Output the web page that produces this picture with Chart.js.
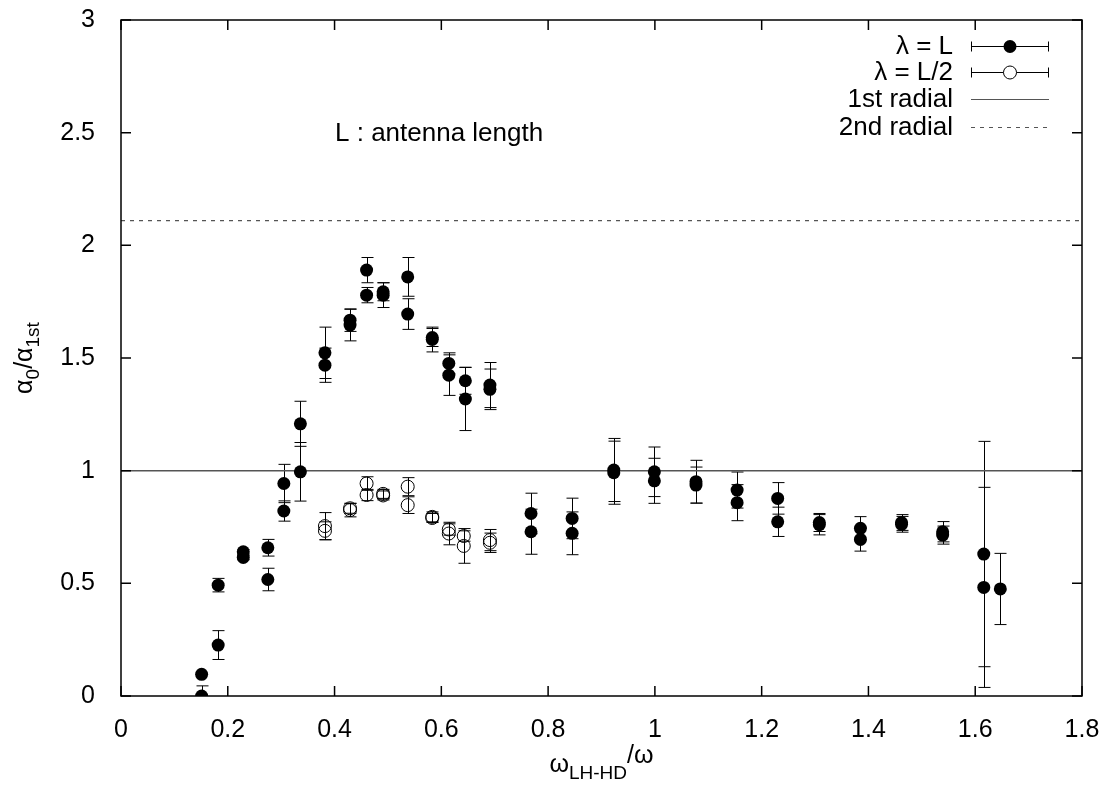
<!DOCTYPE html>
<html>
<head>
<meta charset="utf-8">
<script src="https://cdn.jsdelivr.net/npm/chart.js@4"></script>
<style>
  html, body { margin: 0; padding: 0; background: #fff; }
  canvas { display: block; }
</style>
</head>
<body>
<canvas id="chart" width="1110" height="785"></canvas>
<script>
// lambda = L : x, y and symmetric error
const xFull = [0.151, 0.151, 0.182, 0.182, 0.229, 0.229, 0.275, 0.275, 0.305, 0.305,
  0.336, 0.336, 0.382, 0.382, 0.429, 0.429, 0.460, 0.460, 0.491, 0.491,
  0.537, 0.537, 0.583, 0.583, 0.614, 0.614, 0.645, 0.645, 0.691, 0.691,
  0.768, 0.768, 0.845, 0.845, 0.923, 0.923, 0.999, 0.999, 1.077, 1.077,
  1.154, 1.154, 1.230, 1.230, 1.308, 1.308, 1.385, 1.385, 1.462, 1.462,
  1.539, 1.539, 1.616, 1.616, 1.647];
const yFull = [0.000, 0.096, 0.492, 0.226, 0.640, 0.615, 0.658, 0.517, 0.943, 0.821,
  1.208, 0.995, 1.523, 1.468, 1.668, 1.646, 1.890, 1.779, 1.794, 1.779,
  1.860, 1.695, 1.591, 1.582, 1.476, 1.424, 1.399, 1.318, 1.380, 1.361,
  0.810, 0.729, 0.788, 0.722, 1.003, 0.991, 0.995, 0.955, 0.951, 0.936,
  0.914, 0.858, 0.877, 0.773, 0.770, 0.760, 0.744, 0.695, 0.770, 0.762,
  0.729, 0.714, 0.630, 0.482, 0.475];
const eFull = [0.045, 0.000, 0.030, 0.064, 0.010, 0.010, 0.037, 0.050, 0.085, 0.045,
  0.100, 0.130, 0.114, 0.076, 0.050, 0.070, 0.056, 0.034, 0.040, 0.055,
  0.086, 0.068, 0.040, 0.055, 0.047, 0.090, 0.060, 0.140, 0.100, 0.090,
  0.090, 0.100, 0.090, 0.095, 0.140, 0.140, 0.110, 0.100, 0.095, 0.080,
  0.080, 0.080, 0.070, 0.065, 0.040, 0.045, 0.052, 0.052, 0.035, 0.035,
  0.045, 0.040, 0.500, 0.444, 0.158];

// lambda = L/2
const xHalf = [0.382, 0.382, 0.429, 0.429, 0.460, 0.460, 0.491, 0.491, 0.537, 0.537,
  0.583, 0.583, 0.614, 0.614, 0.642, 0.642, 0.691, 0.691];
const yHalf = [0.754, 0.733, 0.833, 0.825, 0.943, 0.892, 0.897, 0.890, 0.929, 0.847,
  0.795, 0.790, 0.739, 0.721, 0.710, 0.666, 0.692, 0.680];
const eHalf = [0.060, 0.040, 0.022, 0.030, 0.030, 0.025, 0.020, 0.020, 0.040, 0.037,
  0.022, 0.020, 0.025, 0.050, 0.023, 0.077, 0.047, 0.043];

// radial levels
const firstRadial = 1.0;
const secondRadial = 2.11;

const xRange = [0, 1.8];
const legendLabels = ['\u03bb = L', '\u03bb = L/2', '1st radial', '2nd radial'];

const FONT = "'Liberation Sans', Arial, sans-serif";
const GRAY = '#555';

const pts = (xs, ys) => xs.map((x, i) => ({ x: x, y: ys[i] }));

const errorBars = {
  id: 'errorBars',
  beforeDatasetsDraw(chart) {
    const { ctx, scales: { x, y } } = chart;
    ctx.save();
    ctx.strokeStyle = '#000';
    ctx.lineWidth = 1;
    const draw = (xs, ys, es) => {
      xs.forEach((xv, i) => {
        if (!es[i]) return;
        const px = Math.round(x.getPixelForValue(xv)) + 0.5;
        const top = y.getPixelForValue(Math.min(ys[i] + es[i], 3));
        const lo = ys[i] - es[i];
        const bot = y.getPixelForValue(Math.max(lo, 0));
        ctx.beginPath();
        ctx.moveTo(px, top); ctx.lineTo(px, bot);
        ctx.moveTo(px - 6, top); ctx.lineTo(px + 6, top);
        if (lo >= 0) { ctx.moveTo(px - 6, bot); ctx.lineTo(px + 6, bot); }
        ctx.stroke();
      });
    };
    draw(xFull, yFull, eFull);
    draw(xHalf, yHalf, eHalf);
    ctx.restore();
  }
};

// frame, mirrored inward ticks, axis titles, legend and note
const decorations = {
  id: 'decorations',
  afterDraw(chart) {
    const { ctx, chartArea: a, scales: { x, y } } = chart;
    ctx.save();
    ctx.strokeStyle = '#000';
    ctx.lineWidth = 1.5;
    ctx.strokeRect(a.left, a.top, a.right - a.left, a.bottom - a.top);
    ctx.beginPath();
    x.ticks.forEach(t => {
      const px = x.getPixelForValue(t.value);
      ctx.moveTo(px, a.bottom); ctx.lineTo(px, a.bottom - 10);
      ctx.moveTo(px, a.top); ctx.lineTo(px, a.top + 10);
    });
    y.ticks.forEach(t => {
      const py = y.getPixelForValue(t.value);
      ctx.moveTo(a.left, py); ctx.lineTo(a.left + 10, py);
      ctx.moveTo(a.right, py); ctx.lineTo(a.right - 10, py);
    });
    ctx.stroke();

    ctx.fillStyle = '#000';
    ctx.textBaseline = 'alphabetic';
    ctx.textAlign = 'left';

    // x title: omega_{LH-HD}/omega
    const cx = (a.left + a.right) / 2;
    const big = '25px ' + FONT, small = '19px ' + FONT;
    const parts = [
      { t: '\u03c9', f: big, dy: 0 },
      { t: 'LH-HD', f: small, dy: 7 },
      { t: '/\u03c9', f: big, dy: -9 }
    ];
    let w = 0;
    parts.forEach(p => { ctx.font = p.f; w += ctx.measureText(p.t).width; });
    let tx = cx - w / 2;
    const base = 772;
    parts.forEach(p => { ctx.font = p.f; ctx.fillText(p.t, tx, base + p.dy); tx += ctx.measureText(p.t).width; });

    // y title: alpha_0/alpha_1st
    ctx.save();
    ctx.translate(32, (a.top + a.bottom) / 2);
    ctx.rotate(-Math.PI / 2);
    const yparts = [
      { t: '\u03b1', f: big, dy: 0 },
      { t: '0', f: small, dy: 7 },
      { t: '/\u03b1', f: big, dy: 0 },
      { t: '1st', f: small, dy: 7 }
    ];
    w = 0;
    yparts.forEach(p => { ctx.font = p.f; w += ctx.measureText(p.t).width; });
    tx = -w / 2;
    yparts.forEach(p => { ctx.font = p.f; ctx.fillText(p.t, tx, p.dy); tx += ctx.measureText(p.t).width; });
    ctx.restore();

    // note
    ctx.font = '26px ' + FONT;
    ctx.fillText('L : antenna length', 335, 141);

    // legend
    const rows = [46, 72, 99, 127];
    const textRight = 953, s0 = 971, s1 = 1049, sm = (s0 + s1) / 2;
    ctx.textAlign = 'right';
    ctx.textBaseline = 'middle';
    legendLabels.forEach((lab, i) => {
      ctx.fillStyle = '#000';
      ctx.fillText(lab, textRight, rows[i] + 1);
      const ry = rows[i] + 0.5;
      ctx.lineWidth = 1;
      ctx.setLineDash(i === 3 ? [4, 5] : []);
      ctx.strokeStyle = i < 2 ? '#000' : GRAY;
      ctx.beginPath();
      ctx.moveTo(s0, ry); ctx.lineTo(s1, ry);
      if (i < 2) {
        ctx.moveTo(s0 + 0.5, ry - 5); ctx.lineTo(s0 + 0.5, ry + 5);
        ctx.moveTo(s1 - 0.5, ry - 5); ctx.lineTo(s1 - 0.5, ry + 5);
      }
      ctx.stroke();
      ctx.setLineDash([]);
      if (i < 2) {
        ctx.beginPath();
        ctx.arc(sm, ry, 6.5, 0, Math.PI * 2);
        if (i === 0) { ctx.fillStyle = '#000'; ctx.fill(); }
        else { ctx.fillStyle = '#fff'; ctx.fill(); ctx.strokeStyle = '#000'; ctx.stroke(); }
      }
    });
    ctx.restore();
  }
};

new Chart(document.getElementById('chart'), {
  type: 'scatter',
  data: {
    datasets: [
      {
        label: legendLabels[2],
        type: 'line',
        data: xRange.map(v => ({ x: v, y: firstRadial })),
        borderColor: GRAY,
        borderWidth: 1.5,
        pointRadius: 0,
        order: 3
      },
      {
        label: legendLabels[3],
        type: 'line',
        data: xRange.map(v => ({ x: v, y: secondRadial })),
        borderColor: GRAY,
        borderWidth: 1.2,
        borderDash: [4, 5],
        pointRadius: 0,
        order: 4
      },
      {
        label: legendLabels[1],
        data: pts(xHalf, yHalf),
        pointStyle: 'circle',
        pointRadius: 6.5,
        pointBackgroundColor: 'rgba(0,0,0,0)',
        pointBorderColor: '#000',
        pointBorderWidth: 1,
        order: 2
      },
      {
        label: legendLabels[0],
        data: pts(xFull, yFull),
        pointStyle: 'circle',
        pointRadius: 6.5,
        pointBackgroundColor: '#000',
        pointBorderColor: '#000',
        pointBorderWidth: 0,
        order: 1
      }
    ]
  },
  options: {
    responsive: false,
    animation: false,
    layout: { padding: { top: 20, right: 28, left: 0, bottom: 0 } },
    plugins: { legend: { display: false }, tooltip: { enabled: false } },
    scales: {
      x: {
        type: 'linear',
        min: xRange[0],
        max: xRange[1],
        grid: { display: false },
        border: { display: false },
        afterFit: s => { s.height = 89; s.paddingLeft = 0; s.paddingRight = 0; },
        ticks: {
          stepSize: 0.2,
          padding: 11,
          color: '#000',
          font: { family: FONT, size: 25 },
          callback: v => String(+v.toFixed(1))
        }
      },
      y: {
        min: 0,
        max: 3,
        grid: { display: false },
        border: { display: false },
        afterFit: s => { s.width = 121; s.paddingTop = 0; s.paddingBottom = 0; },
        ticks: {
          stepSize: 0.5,
          padding: 18,
          color: '#000',
          font: { family: FONT, size: 25 },
          callback: v => String(+v.toFixed(1))
        }
      }
    }
  },
  plugins: [errorBars, decorations]
});
</script>
</body>
</html>
